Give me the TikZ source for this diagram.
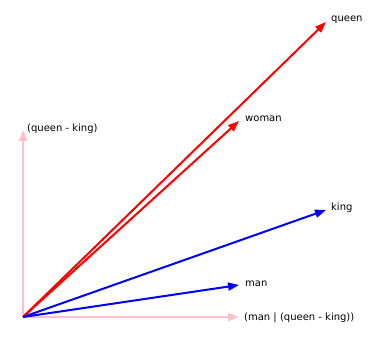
\documentclass[tikz,border=0pt]{standalone}
\usepackage{fontspec}
\setmainfont{DejaVu Sans}
\usepackage{xcolor}
\usetikzlibrary{arrows.meta, positioning}
\definecolor{vecred}{RGB}{255,0,0}
\definecolor{vecblue}{RGB}{0,0,255}
\definecolor{axispink}{RGB}{255,192,203}

\begin{document}
\begin{tikzpicture}[
    x=1pt, y=1pt,
    lbl/.style={anchor=west, inner sep=0pt, font=\fontsize{10}{12}\selectfont},
    vec/.style={-{Triangle[length=11pt, width=8pt]}, line width=2pt, line cap=butt},
    redvec/.style={vec, vecred},
    bluevec/.style={vec, vecblue},
    pinkvec/.style={vec, axispink}
]
\useasboundingbox (0,0) rectangle (369,340);
\coordinate (origin) at (23,23);
\coordinate (queen) at (326,318);
\coordinate (woman) at (239,219);
\coordinate (king) at (326,130);
\coordinate (man) at (239,55);
\coordinate (diff) at (23,210);
\coordinate (proj) at (239,23);

\draw[pinkvec] (origin) -- (diff);
\draw[pinkvec] (origin) -- (proj);
\draw[redvec] (origin) -- (queen);
\draw[redvec] (origin) -- (woman);
\draw[bluevec] (origin) -- (king);
\draw[bluevec] (origin) -- (man);

\node[lbl] (queenlbl) at (331,320) {queen};
\node[lbl] (womanlbl) at (245,221) {woman};
\node[lbl] (kinglbl) at (331,132) {king};
\node[lbl] (manlbl) at (245,56) {man};
\node[lbl] (difflbl) at (27,211) {(queen - king)};
\node[lbl] (projlbl) at (244,22) {(man | (queen - king))};
\end{tikzpicture}
\end{document}
